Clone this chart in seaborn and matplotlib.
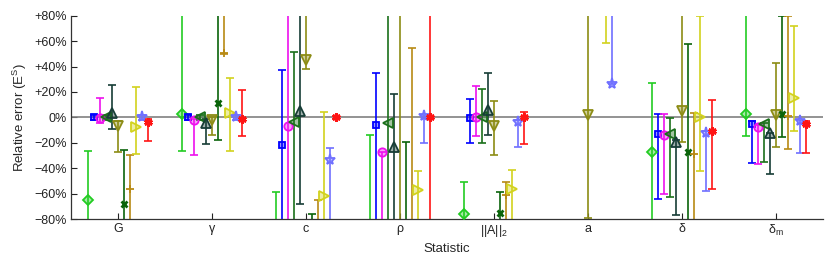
import numpy as np
import matplotlib
matplotlib.use("Agg")
import matplotlib.pyplot as plt
import seaborn as sns
from matplotlib.colors import to_rgba

nan = np.nan
statistics = ["G", "\u03b3", "c", "\u03c1", "||A||$_2$", "a", "\u03b4", "\u03b4$_m$"]

# series: centre, lower, upper (relative error in %), order G, gamma, c, rho, ||A||2, a, delta, delta_m
s1_mid = [-65, 2.6, -95, -95, -76, nan, -27, 2.9]
s1_lo = [-120, -26.2, -120, -120, -120, nan, -120, -14.7]
s1_hi = [-26.5, 120, -58.8, -14.2, -50.6, nan, 27.3, 120]

s2_mid = [0, 0, -22, -6, -0.2, nan, -13.4, -5.2]
s2_lo = [-2, -2, -120, -120, -19.9, nan, -64.3, -35.7]
s2_hi = [2, 2, 37.3, 35.2, 14.4, nan, 2.6, -2.6]

s3_mid = [-0.3, -2, -6.5, -27.3, 0, nan, -13.9, -7.3]
s3_lo = [-4.7, -29.6, -120, -120, -14.7, nan, -60.3, -37]
s3_hi = [15.5, -1, 120, -27.3, 24.7, nan, 2.6, -6]

s4_mid = [0, 0, -3.9, -4.7, 0, nan, -13.1, -5]
s4_lo = [-2, -2, -120, -120, -20.4, nan, -62.9, -35.2]
s4_hi = [2, 2, 51.2, 120, 22, nan, -0.8, -4.5]

s5_mid = [3.7, -4.2, 5, -23.3, 5.8, nan, -19.2, -12.6]
s5_lo = [-9, -21.2, -68.2, -120, -13.9, nan, -76.9, -44.9]
s5_hi = [25.2, -1, 120, 18, 35.2, nan, -18, -12]

s6_mid = [-6.8, -2, 45, 95, -6.8, 1.6, 5, 1.8]
s6_lo = [-27.3, -13.6, 38.3, -120, -29.6, -79.2, -19.7, -23.1]
s6_hi = [-3, 0, 120, 120, 13.1, 120, 120, 42.5]

s7_mid = [-68, 11.5, -95, -95, -75.5, nan, -27, 2.4]
s7_lo = [-120, -17.8, -120, -120, -120, nan, -120, -15.7]
s7_hi = [-25.5, 120, -76, -19.2, -58.5, nan, 58, 80]

s8_mid = [-56.7, 51, -95, -95, -61, nan, -28.6, 1.3]
s8_lo = [-120, 50, -120, -120, -120, nan, -120, -25.2]
s8_hi = [-30, 120, -65.3, 54.9, -50.6, nan, 3.2, 80]

s9_mid = [-7.3, 3.2, -62, -57.2, -56.1, 100, 0.5, 15.5]
s9_lo = [-29, -26.2, -120, -120, -120, 58.8, -42.2, -10.7]
s9_hi = [23.6, 31, 4.2, -42.2, -41.4, 120, 80, 71.9]

s10_mid = [0.5, 0.5, -33.6, 1, -3.4, 26.2, -12, -2.9]
s10_lo = [-2, -2, -120, -20.4, -23.3, 26.2, -58, -28.3]
s10_hi = [2, 2, -23.9, 1.5, -2, 120, -11, -2]

s11_mid = [-3.7, -1.3, 0, 0, 0.5, nan, -10.7, -5.2]
s11_lo = [-18.4, -14.7, -1, -120, -21, nan, -56.4, -27.8]
s11_hi = [-1, 21.8, 1, 120, 4.2, nan, 13.7, -2.6]

series = [
    (s1_mid, s1_lo, s1_hi, "#22cc22", "D", 5.5),
    (s2_mid, s2_lo, s2_hi, "#0000ff", "s", 5),
    (s3_mid, s3_lo, s3_hi, "#ee11ee", "o", 6),
    (s4_mid, s4_lo, s4_hi, "#1a701a", "<", 6.5),
    (s5_mid, s5_lo, s5_hi, "#163d36", "^", 6.5),
    (s6_mid, s6_lo, s6_hi, "#8c8c14", "v", 6.5),
    (s7_mid, s7_lo, s7_hi, "#0a640a", "x", 5),
    (s8_mid, s8_lo, s8_hi, "#b88a14", "+", 6),
    (s9_mid, s9_lo, s9_hi, "#d2d21e", ">", 6.5),
    (s10_mid, s10_lo, s10_hi, "#7070ff", "*", 8),
    (s11_mid, s11_lo, s11_hi, "#ff1414", (6, 2, 0), 6),
]

sns.set_theme(style="ticks")
plt.rcParams["font.family"] = ["Liberation Sans", "DejaVu Sans"]
plt.rcParams["mathtext.default"] = "regular"

fig = plt.figure(figsize=(8.3, 2.62), dpi=100)
ax = fig.add_axes([71 / 830, 43 / 262, 752 / 830, 203.3 / 262])

ax.axhline(0, color="#808080", lw=1.2, zorder=1)

x0 = np.arange(1, len(statistics) + 1)
step = 0.064
for i, (mid, lo, hi, col, mk, ms) in enumerate(series):
    mid = np.array(mid, float)
    lo = np.array(lo, float)
    hi = np.array(hi, float)
    xs = x0 + (i - 5) * step
    face = to_rgba(col, 0.4) if mk not in ("x", "+", (6, 2, 0)) else col
    ax.errorbar(xs, mid, yerr=[mid - lo, hi - mid], fmt="none", ecolor=col,
                elinewidth=1.2, capsize=3, capthick=1.2, zorder=2)
    ax.plot(xs, mid, linestyle="none", marker=mk, markersize=ms,
            markeredgecolor=col, markerfacecolor=face,
            markeredgewidth=1.3 if mk not in ("x", (6, 2, 0)) else 2, zorder=3)

ax.set_xlim(0.5, 8.5)
ax.set_ylim(-80, 80)
ax.set_xticks(x0)
ax.set_xticklabels(statistics)
yt = np.arange(-80, 81, 20)
ax.set_yticks(yt)
ax.set_yticklabels([("+%d%%" % v if v > 0 else ("0%" if v == 0 else "\u2212%d%%" % -v)) for v in yt])
ax.tick_params(direction="in", length=4, width=0.8, labelsize=9, colors="#222222", pad=3)
for side in ("top", "right"):
    ax.spines[side].set_visible(False)
for side in ("left", "bottom"):
    ax.spines[side].set_color("#333333")
    ax.spines[side].set_linewidth(0.9)
ax.set_xlabel("Statistic", fontsize=9.5, labelpad=3)
ax.set_ylabel("Relative error (E$^S$)", fontsize=9.5, labelpad=4)

fig.savefig("out.png", dpi=100)
